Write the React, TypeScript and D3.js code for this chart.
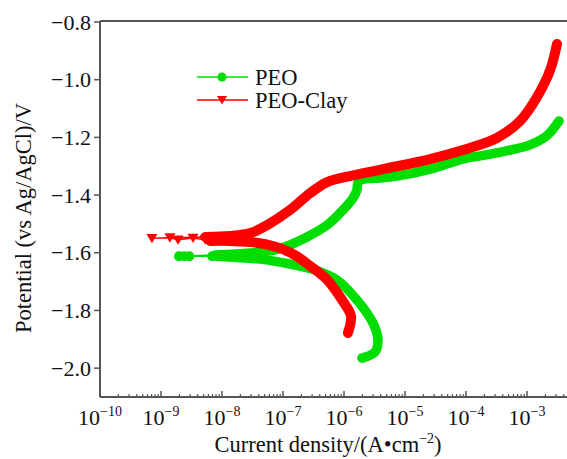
import React from 'react';
import * as d3 from 'd3';

// ---- data (current density in A/cm2, potential in V vs Ag/AgCl) ----
const peoCathodicI = [1.97e-6, 3.22e-6, 3.6e-6, 2.99e-6, 1.63e-6, 7.7e-7, 3.35e-7, 1.3e-7, 4.2e-8, 1.35e-8, 7.7e-9];
const peoCathodicE = [-1.965, -1.944, -1.902, -1.844, -1.764, -1.695, -1.660, -1.639, -1.622, -1.615, -1.611];
const peoMarkerI = [6.9e-9, 2.9e-9, 2.4e-9, 1.97e-9];
const peoMarkerE = [-1.612, -1.612, -1.612, -1.612];
const peoAnodicI = [7.7e-9, 2.9e-8, 7.4e-8, 1.3e-7, 2.3e-7, 5.3e-7, 9.6e-7, 1.41e-6, 1.63e-6, 1.7e-6, 2.2e-6, 3.9e-6, 7.4e-6, 2.6e-5, 8.9e-5, 3.2e-4, 1.12e-3, 2.1e-3, 3.35e-3];
const peoAnodicE = [-1.608, -1.601, -1.590, -1.573, -1.549, -1.504, -1.452, -1.410, -1.382, -1.355, -1.344, -1.341, -1.334, -1.310, -1.275, -1.254, -1.226, -1.195, -1.143];

const clayCathodicI = [1.16e-6, 1.3e-6, 9.3e-7, 5.3e-7, 2.8e-7, 1.57e-7, 8.9e-8, 5.1e-8, 2.9e-8, 1.35e-8, 6.4e-9];
const clayCathodicE = [-1.878, -1.819, -1.764, -1.694, -1.646, -1.608, -1.584, -1.570, -1.563, -1.559, -1.559];
const clayMarkerI = [1.21e-8, 8.3e-9, 5.3e-9, 3.35e-9, 1.9e-9, 1.4e-9, 7.1e-10];
const clayMarkerE = [-1.553, -1.552, -1.555, -1.549, -1.555, -1.548, -1.550];
const clayAnodicI = [5.3e-9, 1.35e-8, 2.9e-8, 5.5e-8, 1.3e-7, 2.8e-7, 5.3e-7, 1.25e-6, 4.4e-6, 2.6e-5, 8.9e-5, 3.2e-4, 7.7e-4, 1.46e-3, 2.4e-3, 3.1e-3];
const clayAnodicE = [-1.545, -1.542, -1.532, -1.504, -1.452, -1.393, -1.355, -1.334, -1.310, -1.275, -1.244, -1.202, -1.143, -1.060, -0.966, -0.876];

const yTicks = [-0.8, -1.0, -1.2, -1.4, -1.6, -1.8, -2.0];
const xDecades = [-10, -9, -8, -7, -6, -5, -4, -3];
const seriesNames = ['PEO', 'PEO-Clay'];

const GREEN = '#00dd00';
const RED = '#ff0000';
const AXIS = '#555555';
const FONT = '"Liberation Serif", "Times New Roman", serif';

type P = [number, number];
const zip = (a: number[], b: number[]): P[] => a.map((v, i) => [v, b[i]]);

export default function App() {
  const W = 567, H = 459;
  const x = d3.scaleLog().domain([1e-10, 1e-2]).range([100, 588]);
  const y = d3.scaleLinear().domain([-2.1, -0.8]).range([397, 22]);
  const line = d3.line<P>().x(d => x(d[0])).y(d => y(d[1])).curve(d3.curveCatmullRom.alpha(0.5));
  const thin = d3.line<P>().x(d => x(d[0])).y(d => y(d[1]));

  const peoC = zip(peoCathodicI, peoCathodicE);
  const peoM = zip(peoMarkerI, peoMarkerE);
  const peoA = zip(peoAnodicI, peoAnodicE);
  const clayC = zip(clayCathodicI, clayCathodicE);
  const clayM = zip(clayMarkerI, clayMarkerE);
  const clayA = zip(clayAnodicI, clayAnodicE);

  const minor: number[] = [];
  xDecades.concat([-2]).forEach(k => {
    for (let j = 2; j <= 9; j++) minor.push(j * Math.pow(10, k));
  });

  const tri = (cx: number, cy: number, s: number) =>
    `M${cx - s},${cy - s * 0.8}L${cx + s},${cy - s * 0.8}L${cx},${cy + s * 0.9}Z`;

  const x0 = 100, yb = 397, yt = 21;

  return (
    <svg width={W} height={H} style={{ position: 'absolute', left: 0, top: 0, background: '#fff' }} fontFamily={FONT}>
      <rect width={W} height={H} fill="#fff" />
      {/* PEO */}
      <path d={thin([...peoC, ...peoM, ...peoA]) || ''} fill="none" stroke={GREEN} strokeWidth={1.5} />
      <path d={line(peoC) || ''} fill="none" stroke={GREEN} strokeWidth={9.5} strokeLinecap="round" strokeLinejoin="round" />
      <path d={line(peoA) || ''} fill="none" stroke={GREEN} strokeWidth={9.5} strokeLinecap="round" strokeLinejoin="round" />
      {peoM.map((d, i) => <circle key={'gm' + i} cx={x(d[0])} cy={y(d[1])} r={5} fill={GREEN} />)}
      {/* PEO-Clay */}
      <path d={thin([...clayC, ...clayM, ...clayA]) || ''} fill="none" stroke={RED} strokeWidth={1.5} />
      <path d={line(clayC) || ''} fill="none" stroke={RED} strokeWidth={10} strokeLinecap="round" strokeLinejoin="round" />
      <path d={line(clayA) || ''} fill="none" stroke={RED} strokeWidth={10} strokeLinecap="round" strokeLinejoin="round" />
      {clayM.map((d, i) => <path key={'rm' + i} d={tri(x(d[0]), y(d[1]), 5.5)} fill={RED} />)}

      {/* axes */}
      <line x1={x0} x2={W} y1={yt} y2={yt} stroke={AXIS} strokeWidth={2} />
      <line x1={x0} x2={x0} y1={yt} y2={yb} stroke={AXIS} strokeWidth={2} />
      <line x1={x0} x2={W} y1={yb} y2={yb} stroke={AXIS} strokeWidth={2} />
      {yTicks.map(t => (
        <g key={'yt' + t}>
          <line x1={x0 - 6} x2={x0} y1={y(t)} y2={y(t)} stroke={AXIS} strokeWidth={1.5} />
          <text x={x0 - 9} y={y(t)} dy="0.35em" textAnchor="end" fontSize={22} fill="#111">
            {t.toFixed(1).replace('-', '\u2212')}
          </text>
        </g>
      ))}
      {xDecades.concat([-2]).map(k => (
        <line key={'xM' + k} x1={x(Math.pow(10, k))} x2={x(Math.pow(10, k))} y1={yb} y2={yb - 6} stroke={AXIS} strokeWidth={1.5} />
      ))}
      {minor.map((v, i) => (
        <line key={'xm' + i} x1={x(v)} x2={x(v)} y1={yb} y2={yb - 3} stroke={AXIS} strokeWidth={1.2} />
      ))}
      {xDecades.map(k => (
        <text key={'xl' + k} x={x(Math.pow(10, k))} y={425} textAnchor="middle" fontSize={22} fill="#111">
          10<tspan fontSize={14} dy={-9}>{'\u2212' + Math.abs(k)}</tspan>
        </text>
      ))}
      <text transform="translate(31,218) rotate(-90)" textAnchor="middle" fontSize={22.5} fill="#111">
        Potential (vs Ag/AgCl)/V
      </text>
      <text x={328} y={452} textAnchor="middle" fontSize={22.5} fill="#111">
        Current density/(A{'\u2022'}cm<tspan fontSize={14} dy={-9}>{'\u2212'}2</tspan><tspan dy={9}>)</tspan>
      </text>

      {/* legend */}
      <line x1={197} x2={248} y1={77} y2={77} stroke={GREEN} strokeWidth={1.5} />
      <circle cx={222} cy={77} r={4.5} fill={GREEN} />
      <text x={255} y={85} fontSize={22.5} fill="#111">{seriesNames[0]}</text>
      <line x1={197} x2={248} y1={100} y2={100} stroke={RED} strokeWidth={1.5} />
      <path d={tri(222, 100, 5)} fill={RED} />
      <text x={255} y={108} fontSize={22.5} fill="#111">{seriesNames[1]}</text>
    </svg>
  );
}
